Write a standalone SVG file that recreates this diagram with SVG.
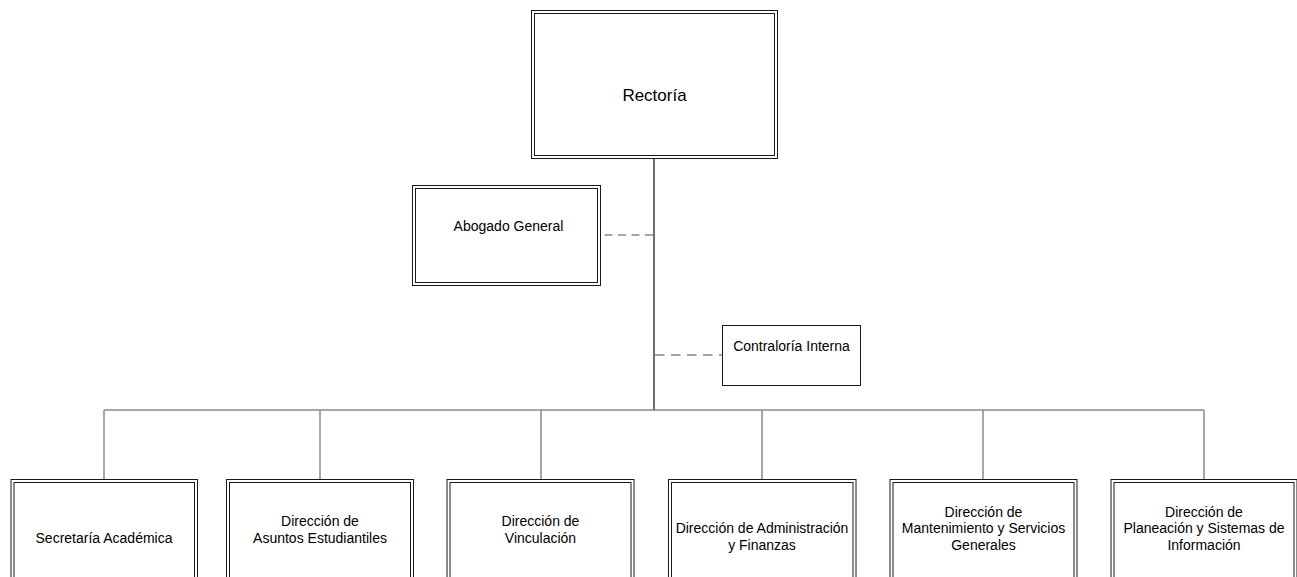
<svg xmlns="http://www.w3.org/2000/svg" width="1297" height="577" viewBox="0 0 1297 577">
<style>
.box{fill:#fff;stroke:#1a1a1a;stroke-width:1}
.inner{fill:none;stroke:#1a1a1a;stroke-width:1}
.lbl{font-family:"Liberation Sans",Arial,sans-serif;font-size:14px;fill:#000;text-anchor:middle}
.big{font-size:17px}
.main{stroke:#707070;stroke-width:2;fill:none}
.con{stroke:#8a8a8a;stroke-width:1.5;fill:none}
.dash{stroke:#888;stroke-width:1.5;fill:none;stroke-dasharray:8 5.5}
</style>
<rect width="1297" height="577" fill="#fff"/>
<g id="connectors">
<line class="main" x1="654" y1="159" x2="654" y2="411"/>
<line class="con" x1="104" y1="410" x2="1204" y2="410"/>
<line class="con" x1="104" y1="410" x2="104" y2="479"/>
<line class="con" x1="320" y1="410" x2="320" y2="479"/>
<line class="con" x1="541" y1="410" x2="541" y2="479"/>
<line class="con" x1="762" y1="410" x2="762" y2="479"/>
<line class="con" x1="983" y1="410" x2="983" y2="479"/>
<line class="con" x1="1204" y1="410" x2="1204" y2="479"/>
<line class="dash" x1="653" y1="235" x2="601" y2="235"/>
<line class="dash" x1="655" y1="355" x2="722" y2="355" style="stroke-dasharray:9.5 6.5"/>
</g>
<g id="rectoria">
<rect class="box" x="531.5" y="10.5" width="246" height="148"/>
<rect class="inner" x="534.5" y="13.5" width="240" height="142"/>
<text class="lbl big" x="654.5" y="101">Rectoría</text>
</g>
<g id="abogado">
<rect class="box" x="412.5" y="185.5" width="188" height="100"/>
<rect class="inner" x="415.5" y="188.5" width="182" height="94"/>
<text class="lbl" x="508.5" y="231">Abogado General</text>
</g>
<g id="contraloria">
<rect class="box" x="722.5" y="325.5" width="138" height="60"/>
<text class="lbl" x="791.5" y="351">Contraloría Interna</text>
</g>
<g id="secretaria">
<rect class="box" x="11" y="479.5" width="186.5" height="120"/>
<rect class="inner" x="14" y="482.5" width="180.5" height="120"/>
<text class="lbl" x="104" y="542.7">Secretaría Académica</text>
</g>
<g id="asuntos">
<rect class="box" x="226.5" y="479.5" width="187" height="120"/>
<rect class="inner" x="229.5" y="482.5" width="181" height="120"/>
<text class="lbl" x="320" y="526">Dirección de</text>
<text class="lbl" x="320" y="542.7">Asuntos Estudiantiles</text>
</g>
<g id="vinculacion">
<rect class="box" x="447" y="479.5" width="187" height="120"/>
<rect class="inner" x="450" y="482.5" width="181" height="120"/>
<text class="lbl" x="540.5" y="526">Dirección de</text>
<text class="lbl" x="540.5" y="542.7">Vinculación</text>
</g>
<g id="administracion">
<rect class="box" x="668.5" y="479.5" width="187.5" height="120"/>
<rect class="inner" x="671.5" y="482.5" width="181.5" height="120"/>
<text class="lbl" x="762" y="533.3">Dirección de Administración</text>
<text class="lbl" x="762" y="550">y Finanzas</text>
</g>
<g id="mantenimiento">
<rect class="box" x="890" y="479.5" width="187" height="120"/>
<rect class="inner" x="893" y="482.5" width="181" height="120"/>
<text class="lbl" x="983.5" y="516.7">Dirección de</text>
<text class="lbl" x="983.5" y="533.3">Mantenimiento y Servicios</text>
<text class="lbl" x="983.5" y="550">Generales</text>
</g>
<g id="planeacion">
<rect class="box" x="1111" y="479.5" width="186" height="120"/>
<rect class="inner" x="1114" y="482.5" width="180" height="120"/>
<text class="lbl" x="1204" y="516.7">Dirección de</text>
<text class="lbl" x="1204" y="533.3">Planeación y Sistemas de</text>
<text class="lbl" x="1204" y="550">Información</text>
</g>
</svg>
